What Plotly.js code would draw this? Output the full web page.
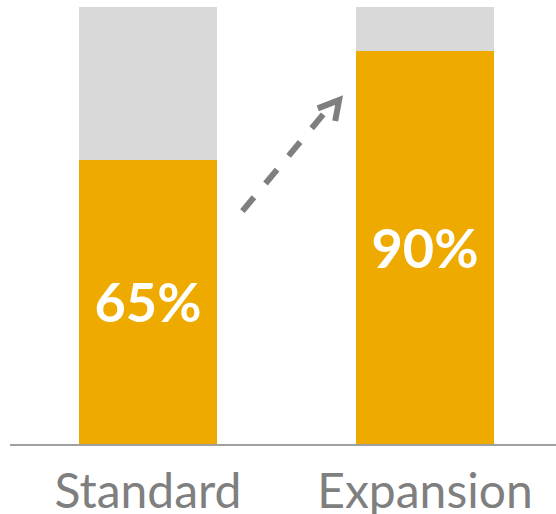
<!DOCTYPE html>
<html>
<head>
<meta charset="utf-8">
<script src="https://cdn.plot.ly/plotly-3.0.1.min.js"></script>
<style>html,body{margin:0;padding:0;background:#fff}#chart{width:556px;height:514px}</style>
</head>
<body>
<div id="chart"></div>
<script>
const categories = ["Standard", "Expansion"];
const filled = [65, 90];
const remaining = [35, 10];
const valueLabels = ["65%", "90%"];

const orange = {
  type: "bar", x: categories, y: filled, width: 0.5,
  marker: {color: "#EFAA00"},
  text: valueLabels, textposition: "inside", insidetextanchor: "middle",
  textfont: {family: "Lato, 'Open Sans', sans-serif", size: 54, color: "#ffffff", weight: "bold"},
  hoverinfo: "skip", showlegend: false
};
const gray = {
  type: "bar", x: categories, y: remaining, width: 0.5,
  marker: {color: "#D9D9D9"}, hoverinfo: "skip", showlegend: false
};

const arrowColor = "#7F7F7F";
const layout = {
  width: 556, height: 514,
  margin: {l: 10, r: 0, t: 7, b: 70},
  barmode: "stack", bargap: 0,
  paper_bgcolor: "#ffffff", plot_bgcolor: "#ffffff",
  xaxis: {
    type: "category", range: [-0.498, 1.473],
    showgrid: false, zeroline: false,
    showline: true, linecolor: "#A0A0A0", linewidth: 2,
    ticks: "", ticklabelstandoff: 4,
    tickfont: {family: "Lato, 'Open Sans', sans-serif", size: 48, color: "#7F7F7F"}
  },
  yaxis: {range: [0, 100], visible: false, showgrid: false, zeroline: false},
  shapes: [
    {type: "line", xref: "x", yref: "y", x0: 0.341, y0: 53.3, x1: 0.672, y1: 78.4,
     line: {color: arrowColor, width: 6, dash: "dash"}},
    {type: "path", xref: "x", yref: "y",
     path: "M 0.613,76.8 L 0.690,78.7 L 0.676,73.9",
     line: {color: arrowColor, width: 6}}
  ]
};

Plotly.newPlot("chart", [orange, gray], layout, {displayModeBar: false, staticPlot: true});
</script>
</body>
</html>
